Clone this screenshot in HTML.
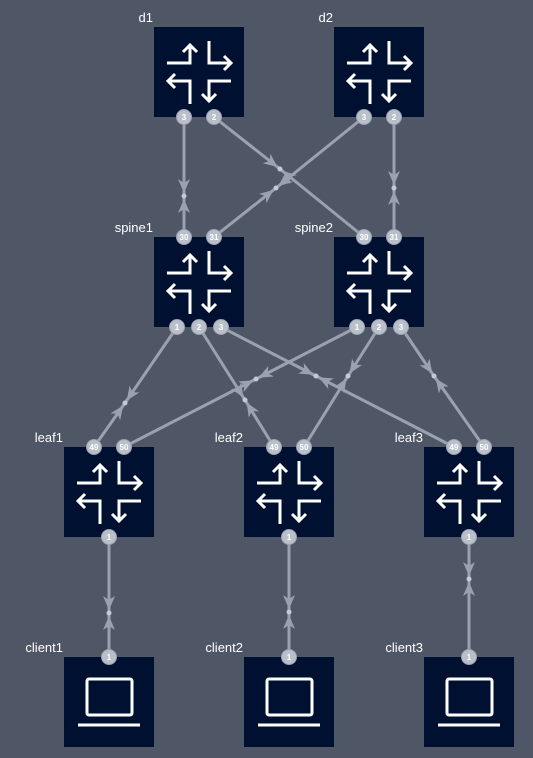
<!DOCTYPE html>
<html><head><meta charset="utf-8"><style>
html,body{margin:0;padding:0;background:#4f5766;}
svg{display:block}
text{font-family:"Liberation Sans",sans-serif;}
</style></head><body>
<svg width="533" height="758" viewBox="0 0 533 758" xmlns="http://www.w3.org/2000/svg">
<defs>
<marker id="ah" markerWidth="14" markerHeight="12" refX="17" refY="6" orient="auto" markerUnits="userSpaceOnUse" viewBox="0 0 14 12">
<path d="M0,0 L14,6 L0,12 L4,6 z" fill="#9aa2b1"/>
</marker>
<g id="router" fill="none" stroke="#fff" stroke-width="3">
<path d="M13,36 H36 V19"/><path d="M29,25 L36,18 L43,25"/>
<path d="M55,14 V36 H76"/><path d="M70,29 L77,36 L70,43"/>
<path d="M77,54 H55 V73"/><path d="M48,67 L55,74 L62,67"/>
<path d="M36,77 V54 H15"/><path d="M21,47 L14,54 L21,61"/>
</g>
<g id="laptop" fill="none" stroke="#fff" stroke-width="3">
<rect x="23" y="22" width="45" height="36" rx="2"/>
<path d="M14,68 H76"/>
</g>
</defs>
<g fill="#001030">
<rect x="154" y="27" width="90" height="90"/><rect x="334" y="27" width="90" height="90"/>
<rect x="154" y="237" width="90" height="90"/><rect x="334" y="237" width="90" height="90"/>
<rect x="64" y="447" width="90" height="90"/><rect x="244" y="447" width="90" height="90"/><rect x="424" y="447" width="90" height="90"/>
<rect x="64" y="657" width="90" height="90"/><rect x="244" y="657" width="90" height="90"/><rect x="424" y="657" width="90" height="90"/>
</g>
<use href="#router" x="154" y="27"/><use href="#router" x="334" y="27"/>
<use href="#router" x="154" y="237"/><use href="#router" x="334" y="237"/>
<use href="#router" x="64" y="447"/><use href="#router" x="244" y="447"/><use href="#router" x="424" y="447"/>
<use href="#laptop" x="64" y="657"/><use href="#laptop" x="244" y="657"/><use href="#laptop" x="424" y="657"/>
<g stroke="#9aa2b1" stroke-width="3" fill="none" marker-end="url(#ah)">
<path d="M184,117 L184,196"/><path d="M184,237 L184,196"/>
<path d="M214,117 L280,169"/><path d="M364,237 L280,169"/>
<path d="M364,117 L276,188"/><path d="M214,237 L276,188"/>
<path d="M394,117 L394,188"/><path d="M394,237 L394,188"/>
<path d="M177,327 L125,403"/><path d="M94,447 L125,403"/>
<path d="M199,327 L245,400"/><path d="M274,447 L245,400"/>
<path d="M357,327 L256,379"/><path d="M124,447 L256,379"/>
<path d="M221,327 L316,376"/><path d="M454,447 L316,376"/>
<path d="M379,327 L348,376"/><path d="M304,447 L348,376"/>
<path d="M401,327 L434,376"/><path d="M484,447 L434,376"/>
<path d="M109,537 L109,613"/><path d="M109,657 L109,613"/>
<path d="M289,537 L289,612"/><path d="M289,657 L289,612"/>
<path d="M469,537 L469,579"/><path d="M469,657 L469,579"/>
</g>
<g fill="#c4cad3">
<circle cx="184" cy="196" r="2.5"/><circle cx="280" cy="169" r="2.5"/><circle cx="276" cy="188" r="2.5"/><circle cx="394" cy="188" r="2.5"/>
<circle cx="125" cy="403" r="2.5"/><circle cx="245" cy="400" r="2.5"/><circle cx="256" cy="379" r="2.5"/><circle cx="316" cy="376" r="2.5"/><circle cx="348" cy="376" r="2.5"/><circle cx="434" cy="376" r="2.5"/>
<circle cx="109" cy="613" r="2.5"/><circle cx="289" cy="612" r="2.5"/><circle cx="469" cy="579" r="2.5"/>
</g>
<g font-size="8" font-weight="bold" fill="#fff" text-anchor="middle">
<g fill="#b9c0ca" stroke="#9aa2b1" stroke-width="1">
<circle cx="184" cy="117" r="7.5"/><circle cx="214" cy="117" r="7.5"/><circle cx="364" cy="117" r="7.5"/><circle cx="394" cy="117" r="7.5"/>
<circle cx="184" cy="237" r="7.5"/><circle cx="214" cy="237" r="7.5"/><circle cx="364" cy="237" r="7.5"/><circle cx="394" cy="237" r="7.5"/>
<circle cx="177" cy="327" r="7.5"/><circle cx="199" cy="327" r="7.5"/><circle cx="221" cy="327" r="7.5"/>
<circle cx="357" cy="327" r="7.5"/><circle cx="379" cy="327" r="7.5"/><circle cx="401" cy="327" r="7.5"/>
<circle cx="94" cy="447" r="7.5"/><circle cx="124" cy="447" r="7.5"/><circle cx="274" cy="447" r="7.5"/><circle cx="304" cy="447" r="7.5"/><circle cx="454" cy="447" r="7.5"/><circle cx="484" cy="447" r="7.5"/>
<circle cx="109" cy="537" r="7.5"/><circle cx="289" cy="537" r="7.5"/><circle cx="469" cy="537" r="7.5"/>
<circle cx="109" cy="657" r="7.5"/><circle cx="289" cy="657" r="7.5"/><circle cx="469" cy="657" r="7.5"/>
</g>
<text x="184" y="120">3</text><text x="214" y="120">2</text><text x="364" y="120">3</text><text x="394" y="120">2</text>
<text x="184" y="240">30</text><text x="214" y="240">31</text><text x="364" y="240">30</text><text x="394" y="240">31</text>
<text x="177" y="330">1</text><text x="199" y="330">2</text><text x="221" y="330">3</text>
<text x="357" y="330">1</text><text x="379" y="330">2</text><text x="401" y="330">3</text>
<text x="94" y="450">49</text><text x="124" y="450">50</text><text x="274" y="450">49</text><text x="304" y="450">50</text><text x="454" y="450">49</text><text x="484" y="450">50</text>
<text x="109" y="540">1</text><text x="289" y="540">1</text><text x="469" y="540">1</text>
<text x="109" y="660">1</text><text x="289" y="660">1</text><text x="469" y="660">1</text>
</g>
<g font-size="13" fill="#fff" text-anchor="end">
<text x="153" y="22">d1</text><text x="333" y="22">d2</text>
<text x="153" y="232">spine1</text><text x="333" y="232">spine2</text>
<text x="63" y="442">leaf1</text><text x="243" y="442">leaf2</text><text x="423" y="442">leaf3</text>
<text x="63" y="652">client1</text><text x="243" y="652">client2</text><text x="423" y="652">client3</text>
</g>
</svg>
</body></html>
